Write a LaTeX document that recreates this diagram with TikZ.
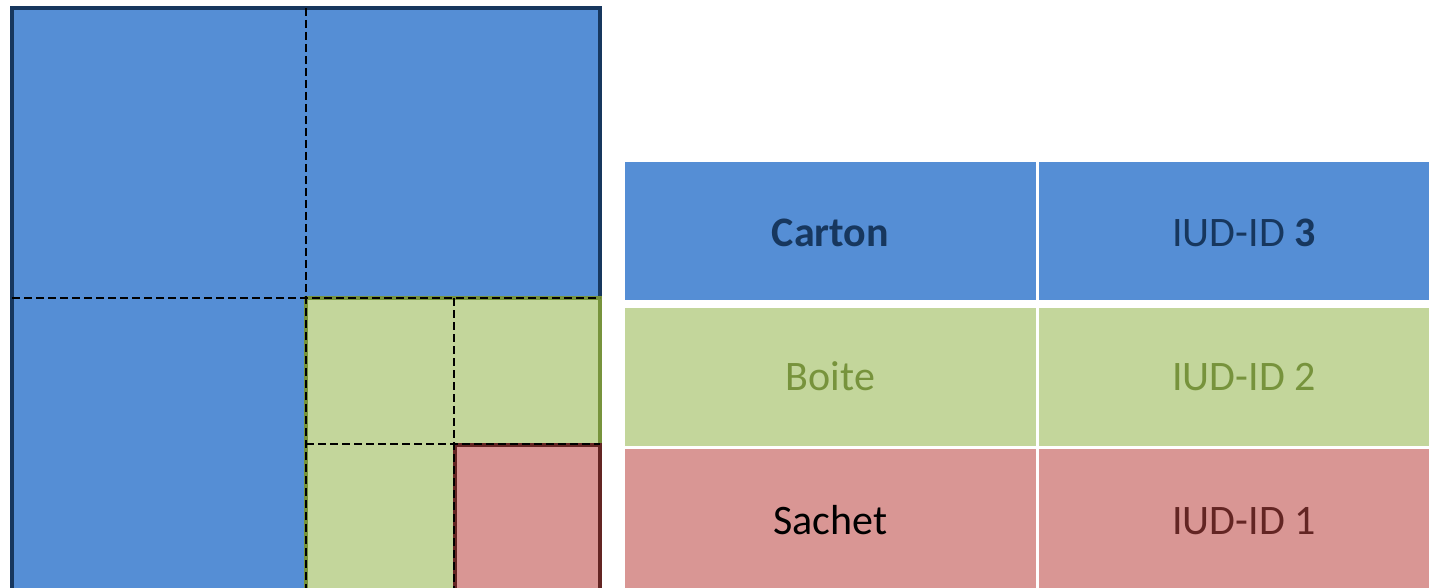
\documentclass[tikz,border=0pt]{standalone}
\usepackage{fontspec}
\setmainfont{Carlito}
\definecolor{cblue}{HTML}{558ED5}
\definecolor{cnavy}{HTML}{17375E}
\definecolor{cgreen}{HTML}{C3D69B}
\definecolor{cgreenD}{HTML}{77933C}
\definecolor{cred}{HTML}{D99694}
\definecolor{credD}{HTML}{632523}
\tikzset{
  cut/.style={draw=black, line width=1.5pt, dash pattern=on 6pt off 3pt},
  lbl/.style={anchor=base, inner sep=0pt, font=\fontsize{31.5pt}{36pt}\selectfont},
}
\begin{document}
\begin{tikzpicture}[x=0.75pt, y=-0.75pt]
\useasboundingbox (0,0) rectangle (1429,588);
\clip (0,0) rectangle (1429,588);
% nested boxes
\filldraw[fill=cblue, draw=cnavy, line width=3pt] (12,8) rectangle (600,640);
\filldraw[fill=cgreen, draw=cgreenD, line width=2.5pt] (306,298) rectangle (600,640);
\filldraw[fill=cred, draw=credD, line width=2.5pt] (455,445) rectangle (600,640);
\coordinate (v1t) at (306,8);
\coordinate (v1b) at (306,640);
\coordinate (h1l) at (12,298);
\coordinate (h1r) at (600,298);
\coordinate (v2t) at (454,298);
\coordinate (v2b) at (454,640);
\coordinate (h2l) at (306,444);
\coordinate (h2r) at (600,444);
\draw[cut] (v1t) -- (v1b);
\draw[cut] (h1l) -- (h1r);
\draw[cut] (v2t) -- (v2b);
\draw[cut] (h2l) -- (h2r);
% table
\fill[cblue] (625,162) rectangle (1036,300);
\fill[cblue] (1039,162) rectangle (1460,300);
\fill[cgreen] (625,308) rectangle (1036,445.5);
\fill[cgreen] (1039,308) rectangle (1460,445.5);
\fill[cred] (625,448.5) rectangle (1036,640);
\fill[cred] (1039,448.5) rectangle (1460,640);
\node[lbl, text=cnavy] (carton) at (830.5,247) {\textbf{Carton}};
\node[lbl, text=cnavy] (id3) at (1244,247) {IUD-ID \textbf{3}};
\node[lbl, text=cgreenD] (boite) at (830.5,390) {Boite};
\node[lbl, text=cgreenD] (id2) at (1244,390) {IUD-ID 2};
\node[lbl, text=black] (sachet) at (830.5,534) {Sachet};
\node[lbl, text=credD] (id1) at (1244,534) {IUD-ID 1};
\end{tikzpicture}
\end{document}
